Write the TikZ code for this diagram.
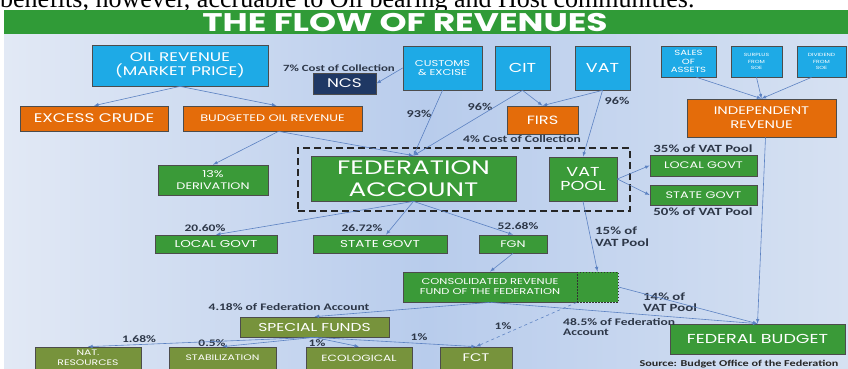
\documentclass[tikz,border=0pt]{standalone}
\usepackage{fontspec}
\setmainfont{Poppins}
\newfontfamily\boxfont[FakeStretch=1.35]{Poppins}
\newfontfamily\lblfont[FakeStretch=1.35]{Carlito}
\newfontfamily\docfont{Liberation Serif}
\usetikzlibrary{arrows,positioning}

\definecolor{skyfill}{RGB}{30,170,230}
\definecolor{navyfill}{RGB}{31,56,100}
\definecolor{orangefill}{RGB}{228,108,10}
\definecolor{greenfill}{RGB}{58,154,56}
\definecolor{olivefill}{RGB}{119,147,60}
\definecolor{titlegreen}{RGB}{48,155,55}
\definecolor{flowline}{RGB}{92,130,194}
\definecolor{lbltext}{RGB}{45,55,72}
\definecolor{bgleft}{RGB}{226,233,245}
\definecolor{bgmid}{RGB}{184,204,236}
\definecolor{bgright}{RGB}{214,225,242}

\newcommand{\bsz}[2]{\boxfont\fontsize{#1}{#2}\selectfont}
\newcommand{\lsz}[2]{\lblfont\bfseries\fontsize{#1}{#2}\selectfont}

\begin{document}
\begin{tikzpicture}[x=1pt,y=-1pt,
box/.style={
  draw=black!70,
  line width=0.7pt,
  text=white,
  align=center,
  inner sep=1pt
  },
skybox/.style={box,fill=skyfill},
navybox/.style={box,fill=navyfill},
orbox/.style={box,fill=orangefill},
grbox/.style={box,fill=greenfill},
olbox/.style={box,fill=olivefill},
lbl/.style={text=lbltext,inner sep=0pt,align=left},
flow/.style={->,draw=flowline,line width=0.6pt},
frame/.style={draw=black!85,line width=2pt,dash pattern=on 7pt off 4pt},
>=latex
]
\useasboundingbox (0,0) rectangle (848,368);

% page text above the slide
\node[anchor=base west,inner sep=0pt,font=\docfont\fontsize{26}{26}\selectfont] (pagetext) at (0,7)
  {benefits, however, accruable to Oil bearing and Host communities.};

% slide background and title
\shade[left color=bgleft,right color=bgright,middle color=bgmid] (4,34) rectangle (848,368);
\fill[titlegreen] (4,10) rectangle (848,34);
\node[text=white,font=\bsz{25.5}{26}\bfseries] (title) at (405,22.5) {THE FLOW OF REVENUES};

% revenue sources
\node[skybox,minimum width=176,minimum height=41,font=\bsz{12.5}{13.5}] (oilrev) at (180,65.5) {OIL REVENUE\\(MARKET PRICE)};
\node[navybox,minimum width=63,minimum height=21,font=\bsz{12.5}{13}] (ncs) at (344.5,83.5) {NCS};
\node[skybox,minimum width=79,minimum height=44,font=\bsz{8.5}{9.5}] (customs) at (442.5,68) {CUSTOMS\\\& EXCISE};
\node[skybox,minimum width=55,minimum height=44,font=\bsz{13}{14}] (cit) at (522.5,68) {CIT};
\node[skybox,minimum width=55,minimum height=44,font=\bsz{13}{14}] (vat) at (602.5,68) {VAT};
\node[skybox,minimum width=55,minimum height=31,font=\bsz{7.5}{8.5}] (sales) at (688.5,61.5) {SALES\\OF\\ASSETS};
\node[skybox,minimum width=51,minimum height=31,font=\bsz{4.5}{6.5}] (surplus) at (756.5,61.5) {SURPLUS\\FROM\\SOE};
\node[skybox,minimum width=49,minimum height=31,font=\bsz{4.5}{6.5}] (dividend) at (821.5,61.5) {DIVIDEND\\FROM\\SOE};

% second level
\node[orbox,minimum width=148,minimum height=25,font=\bsz{12.5}{13}] (excess) at (94,118.5) {EXCESS CRUDE};
\node[orbox,minimum width=179,minimum height=25,font=\bsz{9.5}{10}] (budgeted) at (272.5,118.5) {BUDGETED OIL REVENUE};
\node[orbox,minimum width=71,minimum height=28,font=\bsz{12}{13}] (firs) at (542.5,120) {FIRS};
\node[orbox,minimum width=149,minimum height=38,font=\bsz{11}{14}] (indep) at (761.5,118) {INDEPENDENT\\REVENUE};

% pools
\node[frame,minimum width=332,minimum height=63] (pool) at (464,179.5) {};
\node[grbox,minimum width=205,minimum height=45,font=\bsz{19.5}{22}] (fedacc) at (413.5,178.5) {FEDERATION\\ACCOUNT};
\node[grbox,minimum width=68,minimum height=44,font=\bsz{13}{13.5}] (vatpool) at (583,179) {VAT\\POOL};
\node[grbox,minimum width=110,minimum height=30,font=\bsz{9.5}{12}] (deriv) at (213,180) {13\%\\DERIVATION};
\node[grbox,minimum width=107,minimum height=21,font=\bsz{9.5}{10}] (lgvat) at (703.5,165.5) {LOCAL GOVT};
\node[grbox,minimum width=107,minimum height=20,font=\bsz{9.5}{10}] (sgvat) at (703.5,195) {STATE GOVT};

% shares of the federation account
\node[grbox,minimum width=122,minimum height=18,font=\bsz{10}{10}] (lgfed) at (216,244) {LOCAL GOVT};
\node[grbox,minimum width=134,minimum height=18,font=\bsz{10}{10}] (sgfed) at (380,244) {STATE GOVT};
\node[grbox,minimum width=68,minimum height=18,font=\bsz{9.5}{10}] (fgn) at (513,244) {FGN};
\node[grbox,minimum width=174,minimum height=30,font=\bsz{8.5}{10}] (crf) at (490,287) {CONSOLIDATED REVENUE\\FUND OF THE FEDERATION};
\node[grbox,draw=black!80,line width=1pt,dash pattern=on 1.5pt off 1.5pt,minimum width=41,minimum height=30] (crfext) at (597.5,287) {};
\node[grbox,minimum width=175,minimum height=30,font=\bsz{13}{14}] (fedbud) at (757.5,339) {FEDERAL BUDGET};

% special funds
\node[olbox,minimum width=149,minimum height=20,font=\bsz{11.5}{12}] (special) at (314.5,327) {SPECIAL FUNDS};
\node[olbox,minimum width=106,minimum height=22,font=\bsz{8}{10}] (natres) at (88,358) {NAT.\\RESOURCES};
\node[olbox,minimum width=107,minimum height=22,font=\bsz{8}{10}] (stab) at (222.5,358) {STABILIZATION};
\node[olbox,minimum width=106,minimum height=22,font=\bsz{9}{10}] (eco) at (359,358) {ECOLOGICAL};
\node[olbox,minimum width=72,minimum height=22,font=\bsz{11}{12}] (fct) at (476,358) {FCT};

% percentages
\node[lbl,font=\lsz{9.5}{10}] (ncscost) at (339,68) {7\% Cost of Collection};
\node[lbl,font=\lsz{10.5}{11}] (pcnt93) at (419,114) {93\%};
\node[lbl,font=\lsz{10.5}{11}] (pcntcit) at (480,107) {96\%};
\node[lbl,font=\lsz{10.5}{11}] (pcntvat) at (617,101) {96\%};
\node[lbl,font=\lsz{10}{11}] (firscost) at (522,139) {4\% Cost of Collection};
\node[lbl,font=\lsz{11}{12}] (pcnt35) at (703,149) {35\% of VAT Pool};
\node[lbl,font=\lsz{11}{12}] (pcnt50) at (703,212) {50\% of VAT Pool};
\node[lbl,font=\lsz{10}{11}] (pcntlg) at (205,228) {20.60\%};
\node[lbl,font=\lsz{10}{11}] (pcntsg) at (362,228) {26.72\%};
\node[lbl,font=\lsz{10}{11}] (pcntfgn) at (518,226) {52.68\%};
\node[lbl,font=\lsz{11}{12},anchor=west] (pcnt15) at (595,237) {15\% of\\VAT Pool};
\node[lbl,font=\lsz{11}{11.5},anchor=west] (pcnt14) at (643,302) {14\% of\\VAT Pool};
\node[lbl,font=\lsz{10}{10.5},anchor=west] (pcnt485) at (563,327) {48.5\% of Federation\\Account};
\node[lbl,font=\lsz{10}{11}] (pcnt418) at (289,307) {4.18\% of Federation Account};
\node[lbl,font=\lsz{10}{11}] (pcntnat) at (139,339) {1.68\%};
\node[lbl,font=\lsz{10}{11}] (pcntstab) at (212,343) {0.5\%};
\node[lbl,font=\lsz{10}{11}] (pcnteco) at (317,343) {1\%};
\node[lbl,font=\lsz{10}{11}] (pcntfct) at (419,337) {1\%};
\node[lbl,font=\lsz{10}{11}] (pcntcrf) at (503,326) {1\%};
\node[lbl,text=black!85,font=\lsz{9}{10}] (source) at (739,364) {Source: Budget Office of the Federation};

% flows
\draw[flow] (oilrev.south) -- (excess.north);
\draw[flow] (oilrev.south) -- ([xshift=4]budgeted.north);
\draw[flow] ([xshift=6]budgeted.south) -- (deriv.north);
\draw[flow] ([xshift=6]budgeted.south) -- (fedacc.north);
\draw[flow] (customs.west) -- (ncs.east);
\draw[flow] (customs.south) -- (fedacc.north);
\draw[flow] (cit.south) -- (fedacc.north);
\draw[flow] (cit.south) -- (firs.north);
\draw[flow] (vat.south) -- (firs.north);
\draw[flow] (vat.south) -- (vatpool.north);
\draw[flow] ([xshift=8]sales.south) -- (indep.north);
\draw[flow] (surplus.south) -- (indep.north);
\draw[flow] ([xshift=-10]dividend.south) -- (indep.north);
\draw[flow] ([xshift=4]indep.south) -- (fedbud.north);
\draw[flow] (vatpool.east) -- (lgvat.west);
\draw[flow] (vatpool.east) -- (sgvat.west);
\draw[flow] (fedacc.south) -- (lgfed.north);
\draw[flow] (fedacc.south) -- ([xshift=6]sgfed.north);
\draw[flow] (fedacc.south) -- (fgn.north);
\draw[flow] (fgn.south) -- (crf.north);
\draw[flow] (vatpool.south) -- (crfext.north);
\draw[flow] (crfext.east) -- (fedbud.north);
\draw[flow] (crf.south) -- (fedbud.north);
\draw[flow] (crf.south) -- (special.north);
\draw[flow,dashed] (crfext.south west) -- (fct.north);
\foreach \fund in {natres,stab,eco,fct}
  \draw[flow] (special.south) -- (\fund.north);
\end{tikzpicture}
\end{document}
